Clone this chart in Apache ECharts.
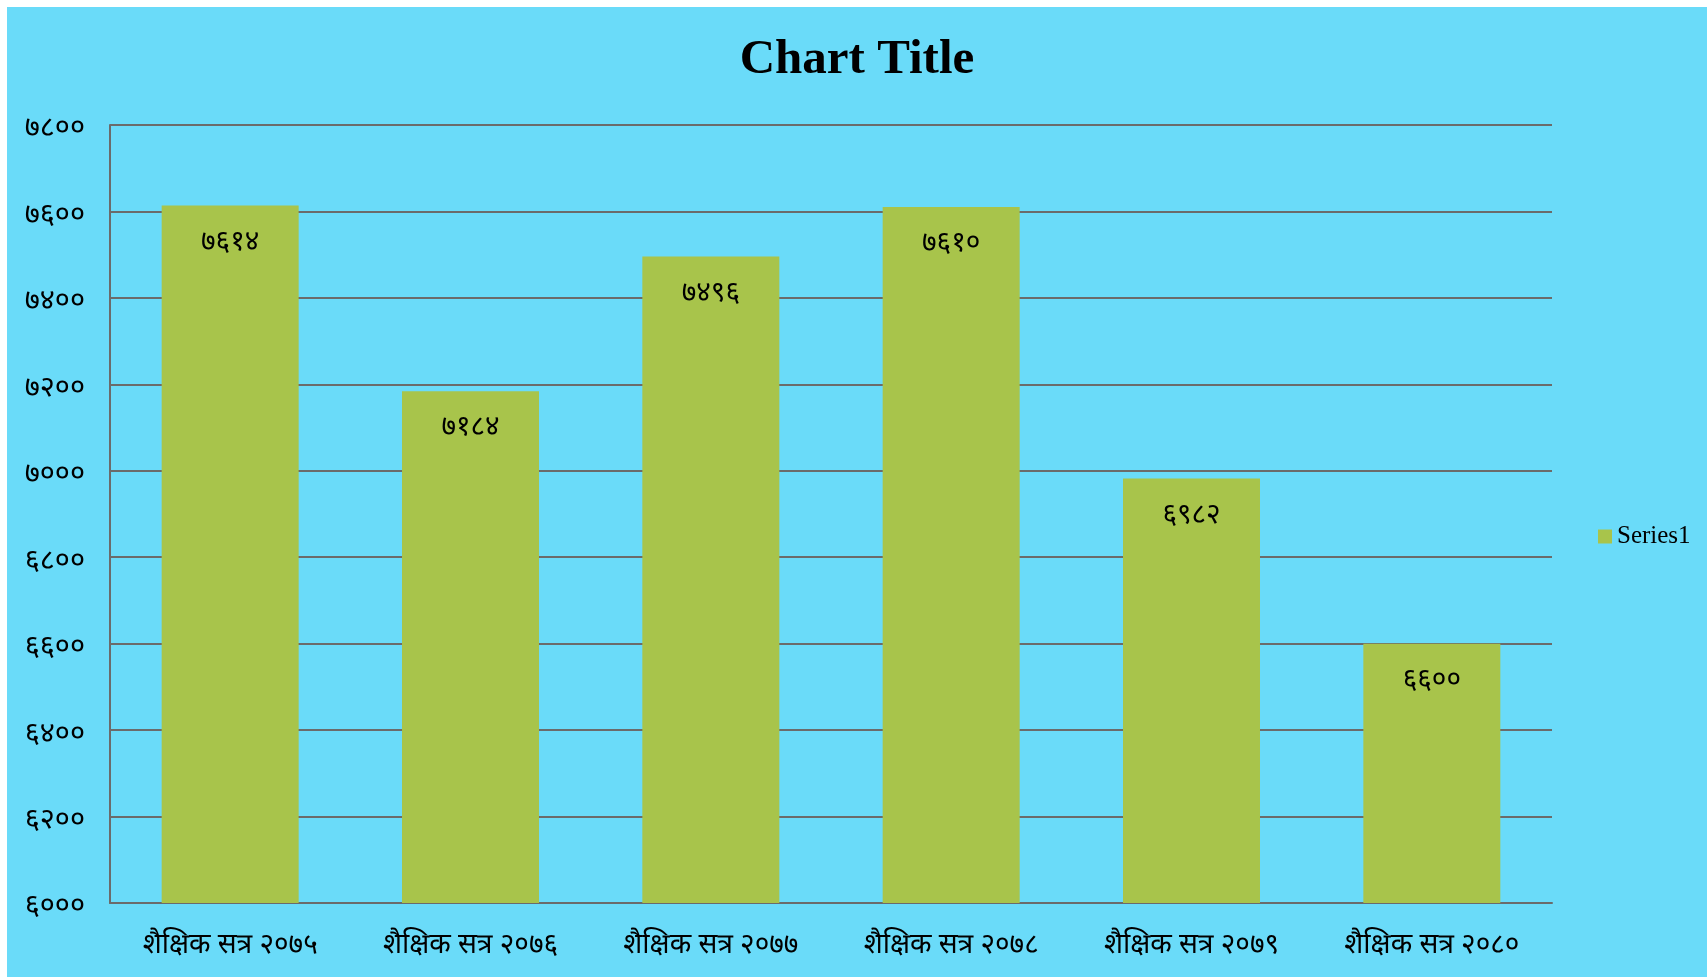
<!DOCTYPE html>
<html>
<head>
<meta charset="utf-8">
<script src="https://cdn.jsdelivr.net/npm/echarts@6/dist/echarts.min.js"></script>
<style>
    body { margin: 0; background: #ffffff; }
    #chart {
        position: absolute;
        left: 7px;
        top: 7px;
        width: 1700px;
        height: 970px;
    }
</style>
</head>
<body>
<div id="chart"></div>
<script>
var categories = ['शैक्षिक सत्र २०७५', 'शैक्षिक सत्र २०७६', 'शैक्षिक सत्र २०७७', 'शैक्षिक सत्र २०७८', 'शैक्षिक सत्र २०७९', 'शैक्षिक सत्र २०८०']
var values = [7614, 7184, 7496, 7610, 6982, 6600]
var valueLabels = ['७६१४', '७१८४', '७४९६', '७६१०', '६९८२', '६६००']
var yTicks = [6000, 6200, 6400, 6600, 6800, 7000, 7200, 7400, 7600, 7800]
var yTickLabels = ['६०००', '६२००', '६४००', '६६००', '६८००', '७०००', '७२००', '७४००', '७६००', '७८००']

var devFont = 'Noto Sans Devanagari, Lohit Devanagari, FreeSans, sans-serif'

var myChart = echarts.init(document.getElementById('chart'))
var option = {
    backgroundColor: '#6adbf9',
    title: {
        text: 'Chart Title',
        left: 'center',
        top: 24,
        textStyle: {
            fontFamily: 'Liberation Serif',
            fontWeight: 'bold',
            fontSize: 49,
            color: '#000'
        }
    },
    legend: {
        data: ['Series1'],
        left: 1586,
        top: 512,
        itemWidth: 14,
        itemHeight: 14,
        icon: 'rect',
        textStyle: {
            fontFamily: 'Liberation Serif',
            fontSize: 25,
            color: '#000'
        }
    },
    grid: {
        left: 103,
        top: 118,
        right: 155,
        bottom: 74
    },
    xAxis: {
        type: 'category',
        data: categories,
        axisTick: { show: false },
        axisLine: { lineStyle: { color: '#6b6b6b', width: 2 } },
        axisLabel: {
            margin: 31,
            fontFamily: devFont,
            fontSize: 28,
            color: '#000'
        }
    },
    yAxis: {
        type: 'value',
        min: 6000,
        max: 7800,
        interval: 200,
        axisLine: { show: true, lineStyle: { color: '#6b6b6b', width: 2 } },
        axisTick: { show: false },
        splitLine: { lineStyle: { color: '#6b6b6b', width: 2 } },
        axisLabel: {
            margin: 25,
            color: '#000',
            formatter: function (v) {
                var i = yTicks.indexOf(v)
                return '{t|' + (i === -1 ? v : yTickLabels[i]) + '}'
            },
            rich: {
                t: {
                    fontFamily: devFont,
                    fontSize: 29,
                    color: '#000',
                    padding: [12, 0, 0, 0]
                }
            }
        }
    },
    series: [
        {
            name: 'Series1',
            type: 'bar',
            data: values,
            barWidth: '57%',
            itemStyle: { color: '#a8c44b' },
            label: {
                show: true,
                position: 'insideTop',
                distance: 25,
                fontFamily: devFont,
                fontSize: 28,
                color: '#000',
                formatter: function (p) {
                    return valueLabels[p.dataIndex]
                }
            }
        }
    ]
}
myChart.setOption(option)
</script>
</body>
</html>
